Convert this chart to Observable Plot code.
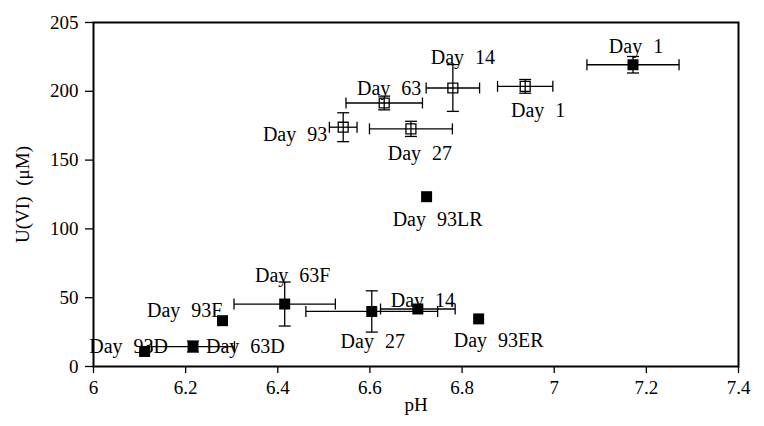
<!DOCTYPE html>
<html><head><meta charset="utf-8">
<script src="https://cdn.jsdelivr.net/npm/d3@7"></script>
<script src="https://cdn.jsdelivr.net/npm/@observablehq/plot@0.6"></script>
<style>
body{margin:0;background:#fff}
#dbg{position:absolute;left:-9999px;top:240px;font:11px monospace;color:red;white-space:pre}
</style>
</head><body><div id="chart"></div><div id="dbg"></div>
<script>
// Open squares series
const openDays   = ["Day 1", "Day 14", "Day 27", "Day 63", "Day 93"];
const openPH     = [6.937, 6.780, 6.689, 6.631, 6.542];
const openU      = [203.6, 202.4, 172.7, 191.5, 173.9];
const openPHerr  = [0.060, 0.058, 0.090, 0.083, 0.030];
const openUerr   = [5, 17, 5.5, 5, 10.5];

// Filled squares series
const filledDays  = ["Day 1", "Day 14", "Day 27", "Day 63F", "Day 63D", "Day 93LR", "Day 93ER", "Day 93F", "Day 93D"];
const filledPH    = [7.171, 6.704, 6.604, 6.415, 6.216, 6.723, 6.836, 6.280, 6.111];
const filledU     = [219.3, 41.8, 40.0, 45.4, 14.5, 123.4, 34.6, 33.3, 10.9];
const filledPHerr = [0.100, 0.081, 0.143, 0.110, 0.090, null, null, null, null];
const filledUerr  = [6, null, 15, 16, 4, null, null, null, null];

// Axis ticks
const xTicks = [6, 6.2, 6.4, 6.6, 6.8, 7, 7.2, 7.4];
const xTickLabels = ["6", "6.2", "6.4", "6.6", "6.8", "7", "7.2", "7.4"];
const yTicks = [0, 50, 100, 150, 200, 250];
const yTickLabels = ["0", "50", "100", "150", "200", "205"];

// Label placement (style): [dx, dy, textAnchor]
const labelPlacement = {
  "open|Day 1":  [13, 24, "middle"],
  "open|Day 14": [10, -30, "middle"],
  "open|Day 27": [9, 25, "middle"],
  "open|Day 63": [5, -14, "middle"],
  "open|Day 93": [-16, 7, "end"],
  "filled|Day 1":   [3, -18, "middle"],
  "filled|Day 14":  [5, -8, "middle"],
  "filled|Day 27":  [1, 30, "middle"],
  "filled|Day 63F": [8, -28, "middle"],
  "filled|Day 63D": [13, 0, "start"],
  "filled|Day 93LR":[11, 23, "middle"],
  "filled|Day 93ER":[20, 22, "middle"],
  "filled|Day 93F": [0, -10, "end"],
  "filled|Day 93D": [-16, -5, "middle"]
};

const open = openDays.map((d, i) => ({series: "open", name: d, ph: openPH[i], u: openU[i], phErr: openPHerr[i], uErr: openUerr[i]}));
const filled = filledDays.map((d, i) => ({series: "filled", name: d, ph: filledPH[i], u: filledU[i], phErr: filledPHerr[i], uErr: filledUerr[i]}));
const all = open.concat(filled);
const hBars = all.filter(d => d.phErr != null);
const vBars = all.filter(d => d.uErr != null);

const vLine = {draw(ctx, size) { const r = Math.sqrt(size / Math.PI); ctx.moveTo(0, -r); ctx.lineTo(0, r); }};
const hLine = {draw(ctx, size) { const r = Math.sqrt(size / Math.PI); ctx.moveTo(-r, 0); ctx.lineTo(r, 0); }};

const ebStyle = {stroke: "black", strokeWidth: 1.3};

const labelMarks = all.map(d => {
  const [dx, dy, anchor] = labelPlacement[d.series + "|" + d.name];
  return Plot.text([d], {x: "ph", y: "u", text: "name", dx, dy, textAnchor: anchor, fontSize: 20, fill: "black"});
});

const chart = Plot.plot({
  width: 764,
  height: 426,
  marginLeft: 93,
  marginRight: 26,
  marginTop: 22,
  marginBottom: 60,
  x: {domain: [6, 7.4]},
  y: {domain: [0, 250]},
  marks: [
    Plot.axisX({ticks: xTicks, tickFormat: d => xTickLabels[xTicks.indexOf(d)], tickSize: 7, tickPadding: 7, fontSize: 19,
      label: "pH", labelAnchor: "center", labelArrow: "none", labelOffset: 44, strokeWidth: 1.3}),
    Plot.axisY({ticks: yTicks, tickFormat: d => yTickLabels[yTicks.indexOf(d)], tickSize: 8, tickPadding: 7, fontSize: 19,
      label: "U(VI) (μM)", labelAnchor: "center", labelOffset: 78, labelArrow: "none", strokeWidth: 1.3}),
    Plot.frame({stroke: "black", strokeWidth: 2}),
    // horizontal error bars
    Plot.link(hBars, {x1: d => d.ph - d.phErr, x2: d => d.ph + d.phErr, y1: "u", y2: "u", ...ebStyle}),
    Plot.dot(hBars, {x: d => d.ph - d.phErr, y: "u", symbol: vLine, r: 5.5, fill: "none", ...ebStyle}),
    Plot.dot(hBars, {x: d => d.ph + d.phErr, y: "u", symbol: vLine, r: 5.5, fill: "none", ...ebStyle}),
    // vertical error bars
    Plot.link(vBars, {x1: "ph", x2: "ph", y1: d => d.u - d.uErr, y2: d => d.u + d.uErr, ...ebStyle}),
    Plot.dot(vBars, {x: "ph", y: d => d.u - d.uErr, symbol: hLine, r: 6, fill: "none", ...ebStyle}),
    Plot.dot(vBars, {x: "ph", y: d => d.u + d.uErr, symbol: hLine, r: 6, fill: "none", ...ebStyle}),
    // markers
    Plot.dot(open, {x: "ph", y: "u", symbol: "square", r: 5.6, fill: "none", stroke: "black", strokeWidth: 1.3}),
    Plot.dot(filled, {x: "ph", y: "u", symbol: "square", r: 6.2, fill: "black", stroke: "none"}),
    ...labelMarks
  ]
});
const fam = "'Liberation Serif', 'Times New Roman', serif";
chart.setAttribute("font-family", fam);
chart.style.fontFamily = fam;
chart.style.wordSpacing = "6px";
chart.style.color = "black";
chart.style.background = "white";
chart.querySelectorAll("g, text, tspan").forEach(el => {
  if (el.hasAttribute("font-family")) el.setAttribute("font-family", fam);
  el.style.fontFamily = fam;
});
document.getElementById("chart").appendChild(chart);
const t = chart.querySelector("text");
document.getElementById("dbg").textContent = "cs=" + getComputedStyle(t).fontFamily;
</script>
</body></html>
